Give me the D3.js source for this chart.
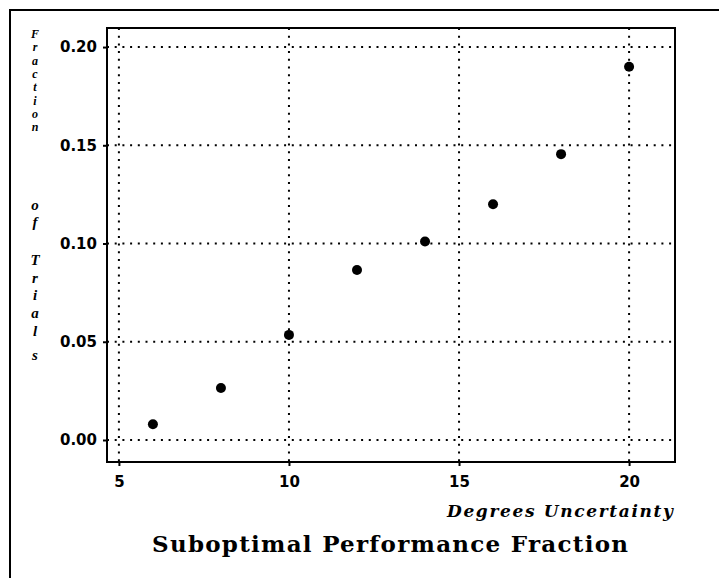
<!DOCTYPE html>
<html>
<head>
<meta charset="utf-8">
<script src="https://cdnjs.cloudflare.com/ajax/libs/d3/7.8.5/d3.min.js"></script>
<style>
body { margin: 0; background: #fff; }
.axis text { font-family: "DejaVu Sans", sans-serif; font-weight: bold; font-size: 15px; fill: #000; }
.axis line { stroke: #000; stroke-width: 2; }
.grid line { stroke: #000; stroke-width: 2; stroke-dasharray: 2,5.7; }
.ylabel { font-family: "Liberation Serif", "DejaVu Serif", serif; font-style: italic; font-weight: bold; font-size: 15px; }
</style>
</head>
<body>
<div id="main"></div>
<script>
// data
var degrees = [6, 8, 10, 12, 14, 16, 18, 20];
var fraction = [0.008, 0.0265, 0.0535, 0.0865, 0.101, 0.120, 0.1455, 0.190];
var xTicks = [5, 10, 15, 20];
var yTicks = [0.00, 0.05, 0.10, 0.15, 0.20];
var title = "Suboptimal Performance Fraction";
var xLabel = "Degrees Uncertainty";
var yLabel = "Fraction of Trials";

var margin = {top: 28, right: 44, bottom: 116, left: 107},
    width = 719 - margin.left - margin.right,
    height = 578 - margin.top - margin.bottom;

var svg = d3.select("#main")
    .append("svg")
    .attr("width", 719)
    .attr("height", 578);

// outer frame (runs off the right and bottom edge)
svg.append("rect")
    .attr("x", 10)
    .attr("y", 10)
    .attr("width", 800)
    .attr("height", 700)
    .style("fill", "none")
    .style("stroke", "#000")
    .style("stroke-width", 2);

var g = svg.append("g")
    .attr("transform", "translate(" + margin.left + "," + margin.top + ")");

var xScale = d3.scaleLinear()
    .domain([4.65, 21.35])
    .range([0, width]);

var yScale = d3.scaleLinear()
    .domain([-0.0112, 0.2097])
    .range([height, 0]);

// dotted grid
g.append("g")
    .attr("class", "grid")
    .selectAll("line")
    .data(yTicks)
    .enter().append("line")
    .attr("x1", 0)
    .attr("x2", width)
    .attr("y1", function(d) { return yScale(d); })
    .attr("y2", function(d) { return yScale(d); });

g.append("g")
    .attr("class", "grid")
    .selectAll("line")
    .data(xTicks)
    .enter().append("line")
    .attr("y1", 0)
    .attr("y2", height)
    .attr("x1", function(d) { return xScale(d); })
    .attr("x2", function(d) { return xScale(d); });

// axes
var xAxis = d3.axisBottom(xScale)
    .tickValues(xTicks)
    .tickFormat(d3.format("d"))
    .tickSize(4)
    .tickPadding(10);

var yAxis = d3.axisLeft(yScale)
    .tickValues(yTicks)
    .tickFormat(d3.format(".2f"))
    .tickSize(4)
    .tickPadding(6);

g.append("g")
    .attr("class", "x axis")
    .attr("transform", "translate(0," + height + ")")
    .call(xAxis)
    .call(function(s) { s.select(".domain").remove(); });

g.append("g")
    .attr("class", "y axis")
    .call(yAxis)
    .call(function(s) { s.select(".domain").remove(); });

// plot frame
g.append("rect")
    .attr("width", width)
    .attr("height", height)
    .style("fill", "none")
    .style("stroke", "#000")
    .style("stroke-width", 2);

// points
g.selectAll("circle")
    .data(degrees)
    .enter().append("circle")
    .attr("cx", function(d) { return xScale(d); })
    .attr("cy", function(d, i) { return yScale(fraction[i]); })
    .attr("r", 5)
    .style("fill", "#000");

// x label
svg.append("text")
    .attr("x", 673)
    .attr("y", 517)
    .attr("text-anchor", "end")
    .attr("textLength", 226)
    .attr("lengthAdjust", "spacing")
    .style("font-family", "'DejaVu Serif', serif")
    .style("font-style", "italic")
    .style("font-weight", "bold")
    .style("font-size", "17px")
    .text(xLabel);

// title
svg.append("text")
    .attr("x", 152)
    .attr("y", 552)
    .attr("textLength", 476)
    .attr("lengthAdjust", "spacing")
    .style("font-family", "'DejaVu Serif', serif")
    .style("font-weight", "bold")
    .style("font-size", "23px")
    .text(title);

// y label, one upright letter per text, stacked down the left side
var yLetterPos = [34, 47.3, 60.6, 73.9, 87.2, 100.5, 113.8, 127.1, 205, 222, 260, 278, 295, 313, 331, 355];
var letters = yLabel.split("").filter(function(c) { return c !== " "; });

svg.selectAll(".ylabel")
    .data(letters)
    .enter().append("text")
    .attr("class", "ylabel")
    .attr("x", 35)
    .attr("y", function(d, i) { return yLetterPos[i]; })
    .attr("text-anchor", "middle")
    .attr("dominant-baseline", "central")
    .style("font-size", function(d, i) { return i < 8 ? "12px" : "15px"; })
    .text(function(d) { return d; });
</script>
</body>
</html>
